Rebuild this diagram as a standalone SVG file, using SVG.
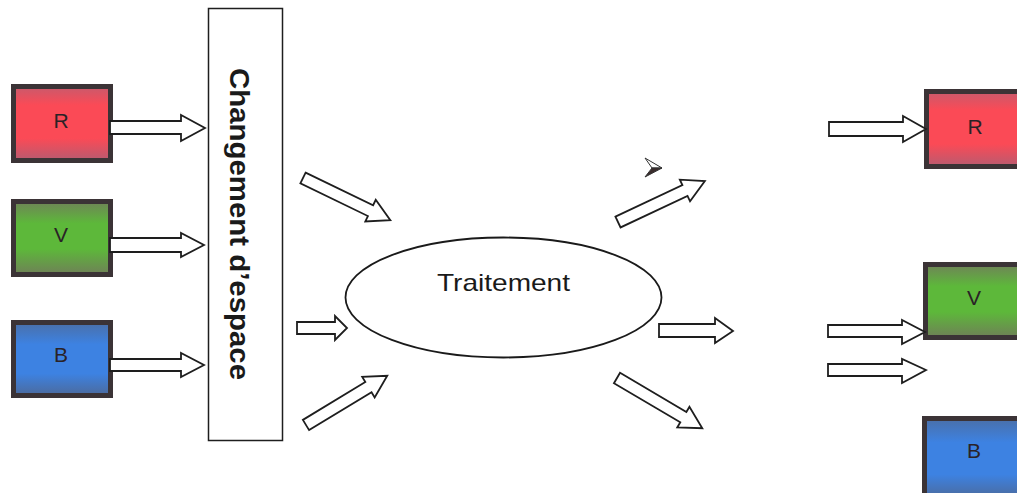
<svg xmlns="http://www.w3.org/2000/svg" width="1017" height="493" viewBox="0 0 1017 493">
<style>
.box{stroke:#3b3336;stroke-width:5}
.lbl{font-family:"Liberation Sans",Arial,sans-serif;font-size:21px;fill:#2a2226;text-anchor:middle}
.arr{fill:#fff;stroke:#1e1e1e;stroke-width:1.8;stroke-linejoin:miter}
.frame{fill:#fff;stroke:#1e1e1e;stroke-width:1.5}
</style>
<defs>
<linearGradient id="gR" x1="0" y1="0" x2="0" y2="1">
<stop offset="0" stop-color="#c85a6c"/><stop offset="0.25" stop-color="#fb4a56"/><stop offset="0.7" stop-color="#fb4a56"/><stop offset="1" stop-color="#b85b70"/>
</linearGradient>
<linearGradient id="gV" x1="0" y1="0" x2="0" y2="1">
<stop offset="0" stop-color="#6f8357"/><stop offset="0.3" stop-color="#5db83a"/><stop offset="0.65" stop-color="#5db83a"/><stop offset="1" stop-color="#6f8057"/>
</linearGradient>
<linearGradient id="gB" x1="0" y1="0" x2="0" y2="1">
<stop offset="0" stop-color="#4a6fa8"/><stop offset="0.3" stop-color="#3d82e2"/><stop offset="0.7" stop-color="#3d82e2"/><stop offset="1" stop-color="#4c6a9c"/>
</linearGradient>
</defs>
<rect width="1017" height="493" fill="#fff"/>

<g id="in-R"><rect class="box" x="13.5" y="86.5" width="97" height="74" fill="url(#gR)"/><text class="lbl" x="61" y="128">R</text></g>
<g id="in-V"><rect class="box" x="13.5" y="201.5" width="97" height="73" fill="url(#gV)"/><text class="lbl" x="61" y="242">V</text></g>
<g id="in-B"><rect class="box" x="13.5" y="322.5" width="97" height="73" fill="url(#gB)"/><text class="lbl" x="61" y="362">B</text></g>

<g id="changement">
<rect class="frame" x="208.5" y="8.5" width="74" height="432"/>
<text transform="translate(230,68) rotate(90)" font-family="'Liberation Sans',Arial,sans-serif" font-weight="bold" font-size="28" fill="#1a1a1a" textLength="312" lengthAdjust="spacingAndGlyphs">Changement d’espace</text>
</g>

<g id="traitement">
<ellipse cx="503.5" cy="297.5" rx="158" ry="60" fill="#fff" stroke="#1a1a1a" stroke-width="1.8"/>
<text x="503.5" y="291" font-family="'Liberation Sans',Arial,sans-serif" font-size="24" fill="#1a1a1a" text-anchor="middle" textLength="133" lengthAdjust="spacingAndGlyphs">Traitement</text>
</g>

<g id="out-R"><rect class="box" x="926.5" y="91.5" width="100" height="75" fill="url(#gR)"/><text class="lbl" x="975" y="134">R</text></g>
<g id="out-V"><rect class="box" x="925.5" y="264.5" width="100" height="73" fill="url(#gV)"/><text class="lbl" x="974" y="305">V</text></g>
<g id="out-B"><rect class="box" x="924.5" y="418.5" width="100" height="80" fill="url(#gB)"/><text class="lbl" x="974" y="458">B</text></g>

<g id="connectors">
<polygon class="arr" points="110,121 181,121 181,115 205,128 181,141 181,134 110,134"/>
<polygon class="arr" points="110,238 181,238 181,233 204,245 181,257 181,252 110,252"/>
<polygon class="arr" points="110,359 181,359 181,353 204,365 181,377 181,371 110,371"/>

<polygon class="arr" transform="translate(303,178) rotate(25.8)" points="0,-6 75,-6 75,-12 97,0 75,12 75,6 0,6"/>
<polygon class="arr" points="297,322 335,322 335,316 347,328 335,340 335,334 297,334"/>
<polygon class="arr" transform="translate(306,425) rotate(-31.2)" points="0,-6 73,-6 73,-12 95,0 73,12 73,6 0,6"/>

<polygon class="arr" transform="translate(618,222) rotate(-25.2)" points="0,-6 74,-6 74,-12 96,0 74,12 74,6 0,6"/>
<polygon class="arr" points="659,324 715,324 715,318 733,331 715,343 715,337 659,337"/>
<polygon class="arr" transform="translate(617,378) rotate(30.5)" points="0,-6 77,-6 77,-12 99,0 77,12 77,6 0,6"/>

<polygon class="arr" points="829,122 903,122 903,116 926,129 903,142 903,136 829,136"/>
<polygon class="arr" points="828,325 902,325 902,320 925,332 902,344 902,337 828,337"/>
<polygon class="arr" points="828,364 902,364 902,359 926,370 902,383 902,376 828,376"/>

<g id="cursor">
<polygon points="645,158 662,168 652,168" fill="#fff" stroke="#333" stroke-width="1"/>
<polygon points="652,168 662,168 645,177" fill="#3a2c2c" stroke="#333" stroke-width="1"/>
</g>
</g>
</svg>
